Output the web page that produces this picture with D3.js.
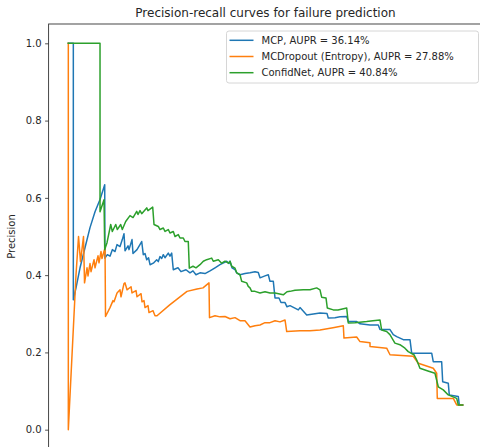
<!DOCTYPE html>
<html>
<head>
<meta charset="utf-8">
<script src="https://cdn.jsdelivr.net/npm/d3@7"></script>
<style>
  html, body { margin: 0; padding: 0; background: #fff; overflow: hidden; }
  svg { display: block; font-family: "DejaVu Sans", sans-serif; }
</style>
</head>
<body>
<svg id="chart" width="480" height="447"></svg>
<script>
// ---- data ----
const chartTitle = "Precision-recall curves for failure prediction";
const yLabel = "Precision";
const yTicks = [0.0, 0.2, 0.4, 0.6, 0.8, 1.0];
const seriesNames = ["MCP, AUPR = 36.14%", "MCDropout (Entropy), AUPR = 27.88%", "ConfidNet, AUPR = 40.84%"];

const mcpRecall = [0, 0.0127, 0.0127, 0.0195, 0.0297, 0.0423, 0.0550, 0.0677, 0.0804, 0.0923, 0.0928, 0.0989, 0.1057, 0.1116, 0.1184, 0.1235, 0.1311, 0.1369, 0.1412, 0.1438, 0.1514, 0.1539, 0.1615, 0.1640, 0.1742, 0.1861, 0.1901, 0.1944, 0.1988, 0.2034, 0.2072, 0.2155, 0.2241, 0.2282, 0.2325, 0.2368, 0.2409, 0.2451, 0.2535, 0.2578, 0.2621, 0.2662, 0.2781, 0.2857, 0.2984, 0.3085, 0.3161, 0.3237, 0.3339, 0.3466, 0.3593, 0.3720, 0.3846, 0.4016, 0.4075, 0.4100, 0.4151, 0.4227, 0.4270, 0.4354, 0.4480, 0.4607, 0.4734, 0.4817, 0.4861, 0.4987, 0.5071, 0.5114, 0.5198, 0.5241, 0.5342, 0.5393, 0.5495, 0.5545, 0.5621, 0.5832, 0.5875, 0.6045, 0.6255, 0.6382, 0.6559, 0.6592, 0.6762, 0.6889, 0.7059, 0.7099, 0.7312, 0.7396, 0.7650, 0.7860, 0.7903, 0.8157, 0.8240, 0.8327, 0.8494, 0.8664, 0.8707, 0.9214, 0.9254, 0.9467, 0.9493, 0.9635, 0.9660, 0.9888, 0.9914, 1.0];
const mcpPrecision = [1, 1, 0.336, 0.367, 0.419, 0.471, 0.523, 0.564, 0.596, 0.634, 0.444, 0.453, 0.449, 0.466, 0.461, 0.479, 0.474, 0.492, 0.507, 0.463, 0.476, 0.466, 0.492, 0.456, 0.466, 0.487, 0.453, 0.456, 0.440, 0.445, 0.427, 0.431, 0.440, 0.435, 0.448, 0.443, 0.453, 0.445, 0.457, 0.449, 0.457, 0.414, 0.419, 0.409, 0.414, 0.406, 0.411, 0.401, 0.406, 0.404, 0.411, 0.419, 0.427, 0.436, 0.430, 0.436, 0.419, 0.414, 0.406, 0.401, 0.404, 0.406, 0.409, 0.407, 0.393, 0.398, 0.401, 0.384, 0.384, 0.341, 0.341, 0.329, 0.329, 0.318, 0.321, 0.310, 0.316, 0.297, 0.300, 0.302, 0.301, 0.289, 0.290, 0.292, 0.293, 0.280, 0.280, 0.274, 0.271, 0.271, 0.259, 0.259, 0.246, 0.241, 0.233, 0.233, 0.198, 0.198, 0.176, 0.176, 0.124, 0.120, 0.090, 0.086, 0.064, 0.064];

const mcdRecall = [0, 0, 0.0195, 0.0259, 0.0309, 0.0385, 0.0411, 0.0474, 0.0499, 0.0550, 0.0576, 0.0652, 0.0677, 0.0753, 0.0778, 0.0829, 0.0854, 0.0931, 0.0943, 0.1057, 0.1133, 0.1159, 0.1235, 0.1311, 0.1336, 0.1412, 0.1438, 0.1488, 0.1590, 0.1615, 0.1717, 0.1742, 0.1844, 0.1869, 0.1919, 0.1945, 0.2021, 0.2046, 0.2148, 0.2198, 0.2249, 0.2571, 0.3010, 0.3263, 0.3415, 0.3567, 0.3580, 0.3720, 0.3846, 0.3973, 0.4100, 0.4227, 0.4353, 0.4480, 0.4607, 0.4734, 0.4861, 0.4987, 0.5114, 0.5241, 0.5368, 0.5495, 0.5538, 0.5875, 0.6128, 0.6382, 0.6712, 0.6973, 0.6990, 0.7312, 0.7396, 0.7650, 0.7650, 0.8073, 0.8157, 0.8747, 0.8874, 0.9254, 0.9341, 0.9356, 0.9762, 0.9848, 1.0];
const mcdPrecision = [1, 0, 0.401, 0.500, 0.435, 0.500, 0.380, 0.419, 0.398, 0.430, 0.409, 0.440, 0.419, 0.450, 0.432, 0.461, 0.443, 0.471, 0.293, 0.316, 0.334, 0.331, 0.354, 0.362, 0.344, 0.378, 0.380, 0.362, 0.370, 0.354, 0.360, 0.344, 0.352, 0.331, 0.334, 0.316, 0.321, 0.303, 0.308, 0.295, 0.295, 0.323, 0.358, 0.364, 0.367, 0.380, 0.290, 0.295, 0.292, 0.293, 0.287, 0.290, 0.282, 0.282, 0.266, 0.269, 0.271, 0.277, 0.277, 0.282, 0.279, 0.284, 0.254, 0.256, 0.256, 0.258, 0.264, 0.269, 0.237, 0.240, 0.228, 0.225, 0.215, 0.211, 0.194, 0.190, 0.172, 0.159, 0.146, 0.081, 0.081, 0.064, 0.064];

const cnRecall = [0, 0.0804, 0.0804, 0.0905, 0.0923, 0.0981, 0.1075, 0.1116, 0.1202, 0.1242, 0.1328, 0.1369, 0.1455, 0.1564, 0.1641, 0.1734, 0.1767, 0.1818, 0.1861, 0.1988, 0.2020, 0.2140, 0.2173, 0.2282, 0.2325, 0.2409, 0.2452, 0.2535, 0.2578, 0.2662, 0.2705, 0.2789, 0.2832, 0.2916, 0.2958, 0.3042, 0.3068, 0.3162, 0.3237, 0.3339, 0.3423, 0.3508, 0.3635, 0.3676, 0.3803, 0.3889, 0.3973, 0.4057, 0.4100, 0.4143, 0.4227, 0.4270, 0.4354, 0.4396, 0.4523, 0.4563, 0.4607, 0.4649, 0.4734, 0.4861, 0.4987, 0.5114, 0.5241, 0.5451, 0.5545, 0.5621, 0.5748, 0.5958, 0.6128, 0.6297, 0.6382, 0.6424, 0.6534, 0.6567, 0.6719, 0.6838, 0.7059, 0.7099, 0.7269, 0.7565, 0.7725, 0.7903, 0.7945, 0.8072, 0.8155, 0.8282, 0.8409, 0.8536, 0.8619, 0.8764, 0.8832, 0.8916, 0.9119, 0.9297, 0.9381, 0.9508, 0.9635, 0.9848, 0.9889, 1.0];
const cnPrecision = [1, 1, 0.564, 0.595, 0.466, 0.484, 0.531, 0.513, 0.531, 0.518, 0.531, 0.518, 0.539, 0.554, 0.549, 0.565, 0.557, 0.567, 0.559, 0.574, 0.567, 0.576, 0.531, 0.526, 0.518, 0.522, 0.513, 0.518, 0.509, 0.513, 0.500, 0.505, 0.496, 0.496, 0.487, 0.487, 0.418, 0.423, 0.419, 0.427, 0.436, 0.440, 0.444, 0.436, 0.440, 0.431, 0.436, 0.431, 0.436, 0.423, 0.418, 0.406, 0.401, 0.384, 0.380, 0.371, 0.367, 0.358, 0.358, 0.354, 0.357, 0.354, 0.354, 0.349, 0.357, 0.358, 0.361, 0.362, 0.362, 0.367, 0.362, 0.343, 0.341, 0.315, 0.310, 0.310, 0.315, 0.276, 0.277, 0.280, 0.282, 0.284, 0.258, 0.254, 0.246, 0.224, 0.220, 0.211, 0.202, 0.194, 0.181, 0.159, 0.152, 0.146, 0.111, 0.103, 0.090, 0.081, 0.064, 0.064];

const colors = ["#1f77b4", "#ff7f0e", "#2ca02c"];

// ---- chart ----
const svg = d3.select("#chart");
const x = d3.scaleLinear().domain([-0.05, 1.05]).range([48.6, 482.4]);
const y = d3.scaleLinear().domain([-0.05, 1.05]).range([449, 24]);

const series = [
  {name: seriesNames[0], recall: mcpRecall, precision: mcpPrecision, color: colors[0]},
  {name: seriesNames[1], recall: mcdRecall, precision: mcdPrecision, color: colors[1]},
  {name: seriesNames[2], recall: cnRecall, precision: cnPrecision, color: colors[2]}
];

svg.append("defs").append("clipPath").attr("id", "plotclip")
  .append("rect").attr("x", x(-0.05)).attr("y", y(1.05))
  .attr("width", x(1.05) - x(-0.05)).attr("height", y(-0.05) - y(1.05));

const line = d3.line().x(d => x(d[0])).y(d => y(d[1]));
const plot = svg.append("g").attr("clip-path", "url(#plotclip)");
series.forEach(s => {
  const pts = s.recall.map((r, i) => [r, s.precision[i]]);
  plot.append("path").datum(pts)
    .attr("d", line)
    .attr("fill", "none")
    .attr("stroke", s.color)
    .attr("stroke-width", 1.5)
    .attr("stroke-linejoin", "round")
    .attr("stroke-linecap", "square");
});

// y axis
const yAxis = d3.axisLeft(y).tickValues(yTicks).tickFormat(d3.format(".1f"))
  .tickSize(3.5).tickPadding(3.5);
const gy = svg.append("g").attr("transform", `translate(${x(-0.05)},0)`).call(yAxis);
gy.select(".domain").remove();
gy.selectAll("text").attr("font-size", 10).attr("font-family", "DejaVu Sans").attr("fill", "#262626");
gy.selectAll("line").attr("stroke", "#262626").attr("stroke-width", 0.8);

// frame (its right and bottom edges fall just outside the picture, as in the reference)
svg.append("rect")
  .attr("x", x(-0.05)).attr("y", y(1.05))
  .attr("width", x(1.05) - x(-0.05)).attr("height", y(-0.05) - y(1.05))
  .attr("fill", "none").attr("stroke", "#333").attr("stroke-width", 0.9);

// title
svg.append("text")
  .attr("x", (x(-0.05) + x(1.05)) / 2).attr("y", 17)
  .attr("text-anchor", "middle")
  .attr("font-size", 12).attr("fill", "#262626")
  .text(chartTitle);

// y label
svg.append("text")
  .attr("transform", `translate(14.5,${(y(-0.05) + y(1.05)) / 2}) rotate(-90)`)
  .attr("text-anchor", "middle")
  .attr("font-size", 10).attr("fill", "#262626")
  .text(yLabel);

// legend
const lg = svg.append("g");
lg.append("rect")
  .attr("x", 226.5).attr("y", 31).attr("width", 252).attr("height", 52)
  .attr("rx", 2.5).attr("fill", "#fff").attr("fill-opacity", 0.8)
  .attr("stroke", "#d6d6d6").attr("stroke-width", 1);
series.forEach((s, i) => {
  const cy = 40.3 + i * 16.2;
  lg.append("line").attr("x1", 229.5).attr("x2", 253.5).attr("y1", cy).attr("y2", cy)
    .attr("stroke", s.color).attr("stroke-width", 1.5);
  lg.append("text").attr("x", 261.5).attr("y", cy + 3.6)
    .attr("font-size", 10).attr("fill", "#262626").text(s.name);
});
</script>
</body>
</html>
